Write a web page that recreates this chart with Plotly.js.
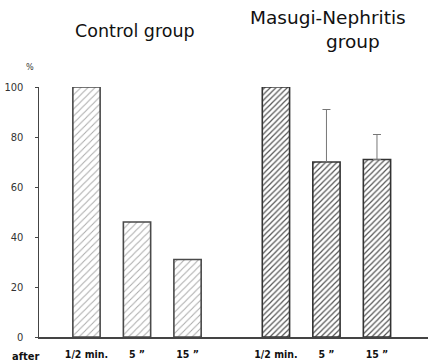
<!DOCTYPE html>
<html>
<head>
<meta charset="utf-8">
<script src="https://cdn.plot.ly/plotly-3.0.1.min.js"></script>
<style>html,body{margin:0;padding:0;background:#fff;}#chart{width:428px;height:364px;}</style>
</head>
<body>
<div id="chart"></div>
<script>
// ---- data ----
const groups = ['Control group', 'Masugi-Nephritis', 'group'];
const timeLabels = ['1/2 min.', '5 \u201d', '15 \u201d'];
const controlValues = [100, 46, 31];
const masugiValues = [100, 70, 71];
const masugiErrPlus = [null, 21, 10];
const yTicks = [0, 20, 40, 60, 80, 100];

// ---- layout helpers ----
const groupOffset = 3.75;
const xControl = timeLabels.map((_, i) => i);
const xMasugi = timeLabels.map((_, i) => i + groupOffset);

const narrow = 'Liberation Sans Narrow, DejaVu Sans Condensed, Arial Narrow, sans-serif';
const titleFont = 'DejaVu Sans, sans-serif';

const traces = [
  {
    type: 'bar', x: xControl, y: controlValues, width: 0.54,
    cliponaxis: false,
    marker: {color: '#fff', line: {color: '#4a4a4a', width: 1.6},
      pattern: {shape: '/', fgcolor: '#aaa', bgcolor: '#fff', size: 5, solidity: 0.2}},
    hoverinfo: 'skip', showlegend: false
  },
  {
    type: 'bar', x: xMasugi, y: masugiValues, width: 0.54,
    cliponaxis: false,
    marker: {color: '#fff', line: {color: '#333', width: 1.6},
      pattern: {shape: '/', fgcolor: '#555', bgcolor: '#fff', size: 4, solidity: 0.3}},
    error_y: {type: 'data', symmetric: false, array: masugiErrPlus, arrayminus: [0,0,0],
      color: '#777', thickness: 1, width: 4},
    hoverinfo: 'skip', showlegend: false
  }
];

const layout = {
  width: 428, height: 364,
  margin: {l: 39, r: 0, t: 87, b: 27},
  paper_bgcolor: '#fff', plot_bgcolor: '#fff',
  bargap: 0,
  xaxis: {
    range: [-0.94, 6.76], showgrid: false, zeroline: false,
    showline: true, linecolor: '#444', linewidth: 1.5,
    tickvals: xControl.concat(xMasugi),
    ticktext: timeLabels.concat(timeLabels).map(t => '<b>' + t + '</b>'),
    ticks: '', tickfont: {family: narrow, size: 10.5, color: '#111'},
    ticklabelstandoff: 7
  },
  yaxis: {
    range: [0, 100], showgrid: false, zeroline: false,
    showline: true, linecolor: '#444', linewidth: 1.5,
    tickvals: yTicks, ticks: 'outside', ticklen: 3, tickcolor: '#444',
    ticklabelstandoff: 9,
    tickfont: {family: narrow, size: 11, color: '#333'}
  },
  font: {family: titleFont, color: '#111'},
  annotations: [
    {text: groups[0], xref: 'paper', yref: 'paper', x: 0.248, y: 1.224, xanchor: 'center', yanchor: 'middle',
      showarrow: false, font: {family: titleFont, size: 17.5, color: '#111'}},
    {text: groups[1], xref: 'paper', yref: 'paper', x: 0.744, y: 1.28, xanchor: 'center', yanchor: 'middle',
      showarrow: false, font: {family: titleFont, size: 18.5, color: '#111'}},
    {text: groups[2], xref: 'paper', yref: 'paper', x: 0.808, y: 1.184, xanchor: 'center', yanchor: 'middle',
      showarrow: false, font: {family: titleFont, size: 18.5, color: '#111'}},
    {text: '%', xref: 'paper', yref: 'paper', x: -0.023, y: 1.08, xanchor: 'center', yanchor: 'middle',
      showarrow: false, font: {family: narrow, size: 9, color: '#333'}},
    {text: '<b>after</b>', xref: 'paper', yref: 'paper', x: -0.035, y: -0.076, xanchor: 'center', yanchor: 'middle',
      showarrow: false, font: {family: narrow, size: 11, color: '#111'}}
  ]
};

Plotly.newPlot('chart', traces, layout, {staticPlot: true, displayModeBar: false});
</script>
</body>
</html>
